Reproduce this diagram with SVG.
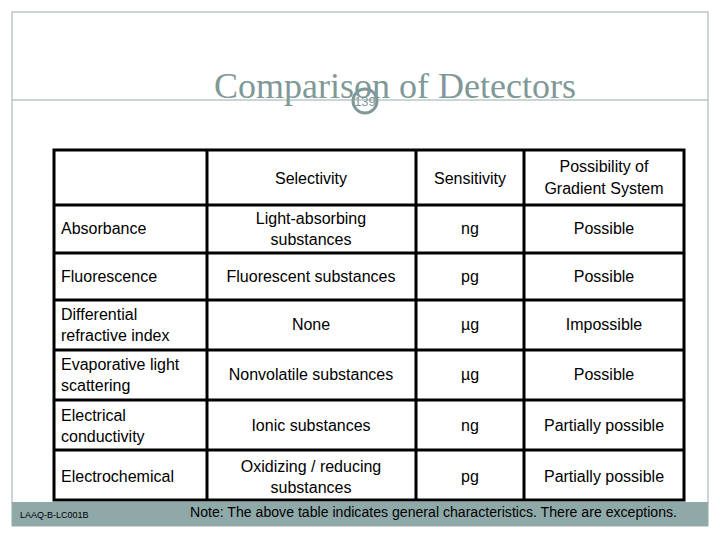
<svg xmlns="http://www.w3.org/2000/svg" width="720" height="540" viewBox="0 0 720 540">
<style>
.t{font-family:"Liberation Sans",Arial,sans-serif;font-size:16px;fill:#000}
.c{text-anchor:middle}
.g{stroke:#000;stroke-width:3;fill:none}
</style>
<rect width="720" height="540" fill="#fff"/>
<rect x="12" y="12" width="696" height="514" fill="none" stroke="#9aabab" stroke-width="1"/>
<line x1="12" y1="100" x2="708" y2="100" stroke="#9aabab"/>
<rect x="12" y="502" width="696" height="24" fill="#8fa9a9"/>
<text x="395" y="98" text-anchor="middle" font-family="Liberation Serif,serif" font-size="36" fill="#7f9898">Comparison of Detectors</text>
<circle cx="365" cy="101" r="12" fill="none" stroke="#7f9898" stroke-width="3"/>
<text x="365" y="106" text-anchor="middle" font-family="Liberation Sans,sans-serif" font-size="13" fill="#7f9898">139</text>
<g id="connectors">
<rect class="g" x="54" y="150" width="630" height="350"/>
<line class="g" x1="207" y1="150" x2="207" y2="500"/>
<line class="g" x1="416" y1="150" x2="416" y2="500"/>
<line class="g" x1="524" y1="150" x2="524" y2="500"/>
<line class="g" x1="54" y1="205" x2="684" y2="205"/>
<line class="g" x1="54" y1="253" x2="684" y2="253"/>
<line class="g" x1="54" y1="300" x2="684" y2="300"/>
<line class="g" x1="54" y1="350" x2="684" y2="350"/>
<line class="g" x1="54" y1="400" x2="684" y2="400"/>
<line class="g" x1="54" y1="450" x2="684" y2="450"/>
</g>
<g id="header">
<text class="t c" x="311" y="184">Selectivity</text>
<text class="t c" x="470" y="184">Sensitivity</text>
<text class="t c" x="604" y="172">Possibility of</text>
<text class="t c" x="604" y="194">Gradient System</text>
</g>
<g id="r1"><text class="t" x="61" y="234">Absorbance</text><text class="t c" x="311" y="224">Light-absorbing</text><text class="t c" x="311" y="245">substances</text><text class="t c" x="470" y="234">ng</text><text class="t c" x="604" y="234">Possible</text></g>
<g id="r2"><text class="t" x="61" y="282">Fluorescence</text><text class="t c" x="311" y="282">Fluorescent substances</text><text class="t c" x="470" y="282">pg</text><text class="t c" x="604" y="282">Possible</text></g>
<g id="r3"><text class="t" x="61" y="320">Differential</text><text class="t" x="61" y="341">refractive index</text><text class="t c" x="311" y="330">None</text><text class="t c" x="470" y="330">µg</text><text class="t c" x="604" y="330">Impossible</text></g>
<g id="r4"><text class="t" x="61" y="370">Evaporative light</text><text class="t" x="61" y="391">scattering</text><text class="t c" x="311" y="380">Nonvolatile substances</text><text class="t c" x="470" y="380">µg</text><text class="t c" x="604" y="380">Possible</text></g>
<g id="r5"><text class="t" x="61" y="421">Electrical</text><text class="t" x="61" y="442">conductivity</text><text class="t c" x="311" y="431">Ionic substances</text><text class="t c" x="470" y="431">ng</text><text class="t c" x="604" y="431">Partially possible</text></g>
<g id="r6"><text class="t" x="61" y="482">Electrochemical</text><text class="t c" x="311" y="472">Oxidizing / reducing</text><text class="t c" x="311" y="493">substances</text><text class="t c" x="470" y="482">pg</text><text class="t c" x="604" y="482">Partially possible</text></g>
<text x="20" y="518" font-family="Liberation Sans,sans-serif" font-size="9" fill="#000">LAAQ-B-LC001B</text>
<text x="190" y="517" textLength="487" lengthAdjust="spacingAndGlyphs" font-family="Liberation Sans,sans-serif" font-size="14" fill="#000">Note: The above table indicates general characteristics. There are exceptions.</text>
</svg>
